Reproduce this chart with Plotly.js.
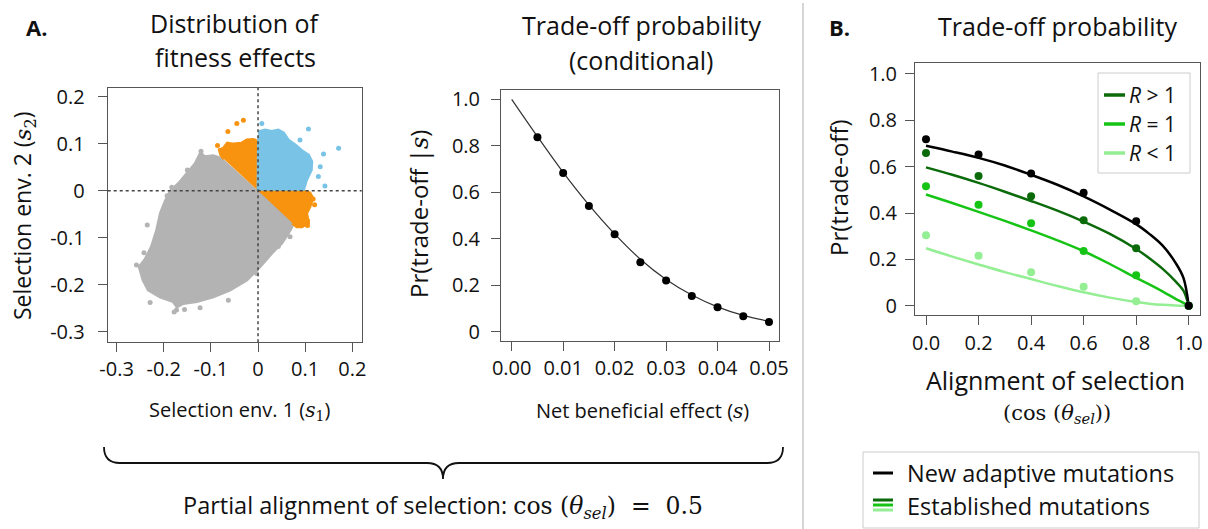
<!DOCTYPE html>
<html>
<head>
<meta charset="utf-8">
<script src="https://cdn.plot.ly/plotly-3.0.1.min.js"></script>
<style>html,body{margin:0;padding:0;background:#fff;}#chart{width:1208px;height:529px;}</style>
</head>
<body>
<div id="chart"></div>
<script>
// ---------- Panel A (left): distribution of fitness effects (outlines of the point cloud) ----------
const grayS1 = [-0.073,-0.095,-0.113,-0.122,-0.133,-0.148,-0.168,-0.187,-0.197,-0.207,-0.215,-0.226,-0.240,-0.252,-0.244,-0.233,-0.208,-0.180,-0.172,-0.159,-0.130,-0.095,-0.059,-0.024,0.004,0.029,0.050,0.064,0.072,0.073,0];
const grayS2 = [0.067,0.074,0.072,0.080,0.058,0.040,0.016,-0.002,-0.023,-0.048,-0.084,-0.119,-0.147,-0.162,-0.190,-0.211,-0.226,-0.236,-0.247,-0.240,-0.236,-0.226,-0.211,-0.190,-0.162,-0.133,-0.112,-0.091,-0.077,-0.069,0];
const grayOutS1 = [-0.121,-0.150,-0.183,-0.193,-0.235,-0.242,-0.258,-0.229,-0.173,-0.123,-0.063,0.043,0.068,-0.003,-0.178,-0.156];
const grayOutS2 = [0.084,0.044,0.007,-0.011,-0.073,-0.132,-0.158,-0.238,-0.254,-0.249,-0.233,-0.119,-0.098,-0.176,-0.258,-0.253];

const orangeUpS1 = [0,0,-0.010,-0.024,-0.035,-0.052,-0.065,-0.074,-0.082,-0.079,-0.072];
const orangeUpS2 = [0,0.104,0.109,0.108,0.101,0.099,0.101,0.090,0.087,0.076,0.067];
const orangeLowS1 = [0,0.096,0.110,0.116,0.110,0.103,0.107,0.093,0.082,0.073];
const orangeLowS2 = [0,0,-0.005,-0.016,-0.034,-0.048,-0.069,-0.077,-0.077,-0.069];
const orangeOutS1 = [-0.064,-0.045,-0.031,0.117,0.105,0.105,-0.086,0.120];
const orangeOutS2 = [0.126,0.143,0.150,-0.018,-0.064,-0.074,0.096,-0.030];

const blueS1 = [0,0.001,0.004,0.015,0.029,0.043,0.054,0.064,0.079,0.093,0.107,0.114,0.113,0.103,0.096];
const blueS2 = [0,0.104,0.126,0.129,0.126,0.129,0.123,0.108,0.097,0.085,0.076,0.062,0.044,0.023,0];
const blueOutS1 = [0.008,0.107,0.089,0.139,0.171,0.132,0.128,0.142];
const blueOutS2 = [0.143,0.131,0.108,0.078,0.090,0.051,0.030,0.010];

// ---------- Panel A (right): conditional trade-off probability ----------
const netEffect = [0.005,0.010,0.015,0.020,0.025,0.030,0.035,0.040,0.045,0.050];
const prCond = [0.837,0.683,0.541,0.419,0.299,0.220,0.154,0.105,0.066,0.042];
const netEffectCurve = [0,0.005,0.010,0.015,0.020,0.025,0.030,0.035,0.040,0.045,0.050];
const prCondCurve = [1.0,0.840,0.686,0.546,0.421,0.312,0.225,0.158,0.107,0.070,0.045];

// ---------- Panel B: trade-off probability vs alignment ----------
const alignPts = [0,0.2,0.4,0.6,0.8,1.0];
const newPts = [0.718,0.653,0.571,0.488,0.364,0];
const rGtPts = [0.659,0.560,0.472,0.369,0.248,0];
const rEqPts = [0.515,0.436,0.356,0.236,0.131,0];
const rLtPts = [0.304,0.216,0.144,0.082,0.019,0];

const alignCurve = [0,0.1,0.2,0.3,0.4,0.5,0.6,0.7,0.8,0.85,0.9,0.95,0.98,1.0];
const newCurve = [0.690,0.665,0.638,0.605,0.565,0.522,0.472,0.415,0.352,0.310,0.260,0.185,0.120,0];
const rGtCurve = [0.597,0.565,0.530,0.492,0.452,0.410,0.363,0.310,0.245,0.205,0.160,0.105,0.065,0];
const rEqCurve = [0.480,0.443,0.405,0.366,0.325,0.282,0.235,0.180,0.120,0.092,0.062,0.030,0.012,0];
const rLtCurve = [0.248,0.212,0.178,0.145,0.115,0.085,0.058,0.035,0.016,0.009,0.004,0.001,0.0,0];

const legendLabels = ['<i>R</i> > 1','<i>R</i> = 1','<i>R</i> < 1'];
const tickA1 = [-0.3,-0.2,-0.1,0,0.1,0.2];
const tickA1Text = ['-0.3','-0.2','-0.1','0','0.1','0.2'];
const tickA2x = [0,0.01,0.02,0.03,0.04,0.05];
const tickA2xText = ['0.00','0.01','0.02','0.03','0.04','0.05'];
const tickProb = [0,0.2,0.4,0.6,0.8,1.0];
const tickProbText = ['0','0.2','0.4','0.6','0.8','1.0'];
const tickBx = [0,0.2,0.4,0.6,0.8,1.0];
const tickBxText = ['0.0','0.2','0.4','0.6','0.8','1.0'];

// ---------- styling ----------
const W = 1208, H = 529;
const px = v => v / W;
const py = v => 1 - v / H;
const FONT = '"Open Sans", Lato, sans-serif';
const SERIF = 'DejaVu Serif';
const GRAY = '#b3b3b3', ORANGE = '#f7930f', BLUE = '#78c3e6';
const COL_NEW = '#000000', COL_GT = '#0b6b0b', COL_EQ = '#16c416', COL_LT = '#94ee94';
const AX = '#555555';

function poly(x, y, c, xa, ya) {
  return {x: x, y: y, xaxis: xa, yaxis: ya, mode: 'lines', fill: 'toself', fillcolor: c,
          line: {color: c, width: 3}, hoverinfo: 'skip', showlegend: false};
}
function pts(x, y, c, size, xa, ya) {
  return {x: x, y: y, xaxis: xa, yaxis: ya, mode: 'markers', type: 'scatter',
          marker: {color: c, size: size}, showlegend: false, hoverinfo: 'skip'};
}
function curve(x, y, c, w, xa, ya) {
  return {x: x, y: y, xaxis: xa, yaxis: ya, mode: 'lines', type: 'scatter',
          line: {color: c, width: w, shape: 'spline', smoothing: 1}, showlegend: false, hoverinfo: 'skip'};
}

const traces = [
  poly(grayS1, grayS2, GRAY, 'x', 'y'),
  pts(grayOutS1, grayOutS2, GRAY, 5, 'x', 'y'),
  poly(orangeUpS1, orangeUpS2, ORANGE, 'x', 'y'),
  poly(orangeLowS1, orangeLowS2, ORANGE, 'x', 'y'),
  pts(orangeOutS1, orangeOutS2, ORANGE, 5, 'x', 'y'),
  poly(blueS1, blueS2, BLUE, 'x', 'y'),
  pts(blueOutS1, blueOutS2, BLUE, 5, 'x', 'y'),

  curve(netEffectCurve, prCondCurve, '#333333', 1.2, 'x2', 'y2'),
  pts(netEffect, prCond, '#000000', 8, 'x2', 'y2'),

  curve(alignCurve, rLtCurve, COL_LT, 2.5, 'x3', 'y3'),
  curve(alignCurve, rEqCurve, COL_EQ, 2.5, 'x3', 'y3'),
  curve(alignCurve, rGtCurve, COL_GT, 2.5, 'x3', 'y3'),
  curve(alignCurve, newCurve, COL_NEW, 2.5, 'x3', 'y3'),
  pts(alignPts, rLtPts, COL_LT, 8, 'x3', 'y3'),
  pts(alignPts, rEqPts, COL_EQ, 8, 'x3', 'y3'),
  pts(alignPts, rGtPts, COL_GT, 8, 'x3', 'y3'),
  pts(alignPts, newPts, COL_NEW, 8, 'x3', 'y3')
];

function axis(domain, range, tv, tt, anchor, standoff) {
  return {domain: domain, range: range, tickvals: tv, ticktext: tt, anchor: anchor,
          ticks: 'outside', ticklen: 9, tickwidth: 1, tickcolor: AX,
          showline: true, mirror: true, linecolor: AX, linewidth: 1,
          showgrid: false, zeroline: false, fixedrange: true,
          ticklabelstandoff: standoff,
          tickfont: {family: FONT, size: 20, color: '#111'}};
}

const layout = {
  width: W, height: H, margin: {l: 0, r: 0, t: 0, b: 0},
  paper_bgcolor: '#fff', plot_bgcolor: '#fff', showlegend: false,
  xaxis: axis([px(107.7), px(361.7)], [-0.319, 0.220], tickA1, tickA1Text, 'y', 0),
  yaxis: axis([py(342.3), py(87.7)], [-0.3226, 0.219], tickA1, tickA1Text, 'x', 9),
  xaxis2: axis([px(501), px(779.3)], [-0.00208, 0.052], tickA2x, tickA2xText, 'y2', 0),
  yaxis2: axis([py(340.7), py(90)], [-0.0387, 1.040], tickProb, tickProbText, 'x2', 7),
  xaxis3: axis([px(915), px(1200)], [-0.0419, 1.043], tickBx, tickBxText, 'y3', 1),
  yaxis3: axis([py(315), py(63.3)], [-0.040, 1.046], tickProb, tickProbText, 'x3', 4),
  shapes: [],
  annotations: []
};

// dotted zero lines in scatter panel
layout.shapes.push({type: 'line', xref: 'x', yref: 'y domain', x0: 0, x1: 0, y0: 0, y1: 1,
  line: {color: '#444', width: 1.5, dash: 'dot'}, layer: 'above'});
layout.shapes.push({type: 'line', xref: 'x domain', yref: 'y', x0: 0, x1: 1, y0: 0, y1: 0,
  line: {color: '#444', width: 1.5, dash: 'dot'}, layer: 'above'});

// vertical divider
layout.shapes.push({type: 'line', xref: 'paper', yref: 'paper', x0: px(803), x1: px(803), y0: py(3), y1: 0,
  line: {color: '#c8c8c8', width: 1.5}});

// brace
function P(x, y) { return px(x).toFixed(5) + ',' + py(y).toFixed(5); }
layout.shapes.push({type: 'path', xref: 'paper', yref: 'paper',
  path: 'M' + P(104, 447) + ' Q' + P(104, 463) + ' ' + P(120, 463) + ' L' + P(427, 463) +
        ' Q' + P(443, 463) + ' ' + P(443, 479) + ' Q' + P(443, 463) + ' ' + P(459, 463) +
        ' L' + P(767, 463) + ' Q' + P(783, 463) + ' ' + P(783, 447),
  line: {color: '#111', width: 1.8}});

// legend in panel B
layout.shapes.push({type: 'rect', xref: 'paper', yref: 'paper', x0: px(1098), x1: px(1190), y0: py(73), y1: py(173),
  line: {color: '#cccccc', width: 1}, fillcolor: 'rgba(255,255,255,0)'});
const legCols = [COL_GT, COL_EQ, COL_LT];
const legY = [95, 124, 153];
legendLabels.forEach((lab, i) => {
  layout.shapes.push({type: 'line', xref: 'paper', yref: 'paper', x0: px(1104), x1: px(1125), y0: py(legY[i]), y1: py(legY[i]),
    line: {color: legCols[i], width: 3.5}});
  layout.annotations.push({xref: 'paper', yref: 'paper', x: px(1127), y: py(legY[i]), xanchor: 'left', yanchor: 'middle',
    text: lab, showarrow: false, font: {family: FONT, size: 21, color: '#111'}});
});

// bottom-right legend
layout.shapes.push({type: 'rect', xref: 'paper', yref: 'paper', x0: px(863), x1: px(1199), y0: py(452), y1: py(528),
  line: {color: '#cccccc', width: 1}, fillcolor: 'rgba(255,255,255,0)'});
layout.shapes.push({type: 'line', xref: 'paper', yref: 'paper', x0: px(873), x1: px(893), y0: py(473), y1: py(473),
  line: {color: COL_NEW, width: 3}});
[[500, COL_GT], [505, COL_EQ], [510, COL_LT]].forEach(d => {
  layout.shapes.push({type: 'line', xref: 'paper', yref: 'paper', x0: px(873), x1: px(893), y0: py(d[0]), y1: py(d[0]),
    line: {color: d[1], width: 3}});
});

function ann(x, y, text, size, opts) {
  const a = Object.assign({xref: 'paper', yref: 'paper', x: px(x), y: py(y), text: text, showarrow: false,
    xanchor: 'center', yanchor: 'middle', font: {family: FONT, size: size, color: '#111'}}, opts || {});
  layout.annotations.push(a);
}
const ms = t => '<span style="font-family:' + SERIF + '">' + t + '</span>';

ann(905, 473, 'New adaptive mutations', 23.5, {xanchor: 'left'});
ann(905, 506, 'Established mutations', 23.5, {xanchor: 'left'});

ann(36, 27, '<b>A.</b>', 22);
ann(839, 27, '<b>B.</b>', 22);
ann(235, 23, 'Distribution of', 25);
ann(235, 57, 'fitness effects', 25);
ann(641, 25, 'Trade-off probability', 25);
ann(641, 60, '(conditional)', 25);
ann(1057, 26, 'Trade-off probability', 25);

ann(23, 216, 'Selection env. 2 (' + ms('<i>s</i><sub>2</sub>') + ')', 23, {textangle: -90});
ann(240, 410, 'Selection env. 1 (' + ms('<i>s</i><sub>1</sub>') + ')', 20);
ann(418, 214, 'Pr(trade-off |' + ms('<i>s</i>') + ')', 24, {textangle: -90});
ann(642, 410, 'Net beneficial effect (' + ms('<i>s</i>') + ')', 20);
ann(838, 188, 'Pr(trade-off)', 24, {textangle: -90});
ann(1055, 380, 'Alignment of selection', 25);
ann(1057, 414, ms('(cos&nbsp;(<i>θ</i><sub><i>sel</i></sub>))'), 21);
ann(443, 506, 'Partial alignment of selection: ' + ms('cos&nbsp;(<i>θ</i><sub><i>sel</i></sub>)&nbsp;&nbsp;=&nbsp;&nbsp;0.5'), 23.5);

Plotly.newPlot('chart', traces, layout, {displayModeBar: false, staticPlot: true});
</script>
</body>
</html>
